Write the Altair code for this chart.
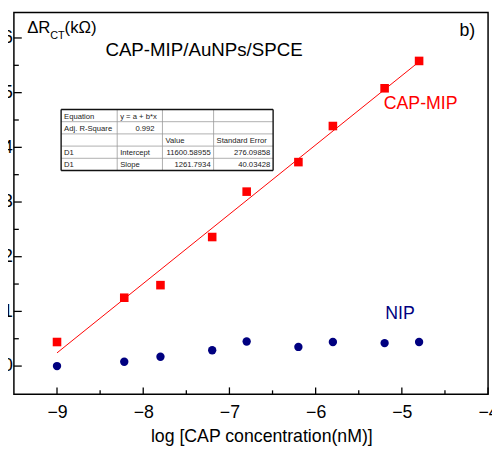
import altair as alt
import pandas as pd

# ---- data ----
x_vals = [-9.0, -8.22, -7.8, -7.2, -6.8, -6.2, -5.8, -5.2, -4.8]
mip_vals = [0.44, 1.25, 1.48, 2.36, 3.19, 3.73, 4.39, 5.08, 5.58]
nip_vals = [0.00, 0.08, 0.17, 0.29, 0.45, 0.35, 0.44, 0.42, 0.44]

x_major = [-9, -8, -7, -6, -5, -4]
x_minor = [-8.5, -7.5, -6.5, -5.5, -4.5]
y_major = [0, 1, 2, 3, 4, 5, 6]
y_minor = [0.5, 1.5, 2.5, 3.5, 4.5, 5.5]

table_rows = [
    ["Equation", "y = a + b*x", "", ""],
    ["Adj. R-Square", "0.992", "", ""],
    ["", "", "Value", "Standard Error"],
    ["D1", "Intercept", "11600.58955", "276.09858"],
    ["D1", "Slope", "1261.7934", "40.03428"],
]
table_align = [
    ["left", "left", "left", "left"],
    ["left", "right", "left", "left"],
    ["left", "left", "left", "left"],
    ["left", "left", "right", "right"],
    ["left", "left", "right", "right"],
]

FONT = "Liberation Sans"
W, H = 482, 388
X_DOM = [-9.5, -4.0]
Y_DOM = [-0.516, 6.464]

mip_df = pd.DataFrame({"x": x_vals, "y": mip_vals})
nip_df = pd.DataFrame({"x": x_vals, "y": nip_vals})

xs = alt.Scale(domain=X_DOM, nice=False, zero=False)
ys = alt.Scale(domain=Y_DOM, nice=False, zero=False)

x_enc = alt.X("x:Q", scale=xs, axis=alt.Axis(values=x_major, format="d", title=None, labelPadding=10,
                                             labelOverlap=False, labelFlush=False))
y_enc = alt.Y("y:Q", scale=ys, axis=alt.Axis(values=y_major, format="d", title=None, labelPadding=1.5,
                                             labelOverlap=False, labelFlush=False))

mip_pts = alt.Chart(mip_df).mark_point(shape="square", filled=True, size=76, color="#ff0000", opacity=1).encode(x=x_enc, y=y_enc)
fit = alt.Chart(mip_df).transform_regression("x", "y", extent=[-9.0, -4.8]).mark_line(
    color="#ff0000", strokeWidth=1).encode(x="x:Q", y="y:Q")
nip_pts = alt.Chart(nip_df).mark_point(shape="circle", filled=True, size=72, color="#000080", opacity=1).encode(x="x:Q", y="y:Q")

# inward ticks
xt_major = alt.Chart(pd.DataFrame({"x": x_major})).mark_rule(color="black", strokeWidth=1.3).encode(
    x="x:Q", y=alt.value(H), y2=alt.value(H - 7))
xt_minor = alt.Chart(pd.DataFrame({"x": x_minor})).mark_rule(color="black", strokeWidth=1.3).encode(
    x="x:Q", y=alt.value(H), y2=alt.value(H - 4))
yt_major = alt.Chart(pd.DataFrame({"y": y_major})).mark_rule(color="black", strokeWidth=1.3).encode(
    y="y:Q", x=alt.value(0), x2=alt.value(8))
yt_minor = alt.Chart(pd.DataFrame({"y": y_minor})).mark_rule(color="black", strokeWidth=1.3).encode(
    y="y:Q", x=alt.value(0), x2=alt.value(5))

# ---- inset table (pixel layout relative to plot origin) ----
OX, OY = 14, 9
col_edges = [62, 119, 165, 217, 277.5]
row_top, row_h = 107.5, 12.4
n_rows = len(table_rows)
row_edges = [row_top + i * row_h for i in range(n_rows + 1)]

cells = []
for r, row in enumerate(table_rows):
    for c, txt in enumerate(row):
        if not txt:
            continue
        al = table_align[r][c]
        pad = 8 if (r == 1 and c == 1) else 3
        px = col_edges[c] + 3 if al == "left" else col_edges[c + 1] - pad
        cells.append({"t": txt, "px": px - OX, "py": row_edges[r + 1] - 3.2 - OY, "al": al})
cells_df = pd.DataFrame(cells)

def table_text(al):
    d = cells_df[cells_df["al"] == al]
    return alt.Chart(d).mark_text(font=FONT, fontSize=7.8, color="#222222", align=al, baseline="alphabetic").encode(
        x=alt.X("px:Q", scale=None), y=alt.Y("py:Q", scale=None), text="t:N")

lines = []
for i, yy in enumerate(row_edges):
    outer = i in (0, n_rows)
    lines.append({"x1": col_edges[0] - OX, "x2": col_edges[-1] - OX, "y1": yy - OY, "y2": yy - OY, "o": outer})
for j, xx in enumerate(col_edges):
    outer = j in (0, len(col_edges) - 1)
    lines.append({"x1": xx - OX, "x2": xx - OX, "y1": row_edges[0] - OY, "y2": row_edges[-1] - OY, "o": outer})
lines_df = pd.DataFrame(lines)

inner_lines = alt.Chart(lines_df[~lines_df["o"]]).mark_rule(color="#9a9a9a", strokeWidth=0.8).encode(
    x=alt.X("x1:Q", scale=None), x2="x2:Q", y=alt.Y("y1:Q", scale=None), y2="y2:Q")
outer_lines = alt.Chart(lines_df[lines_df["o"]]).mark_rule(color="#111111", strokeWidth=1.4).encode(
    x=alt.X("x1:Q", scale=None), x2="x2:Q", y=alt.Y("y1:Q", scale=None), y2="y2:Q")

# ---- annotations ----
def label(txt, px, py, size=18, color="black", align="left"):
    return alt.Chart(pd.DataFrame({"t": [txt]})).mark_text(
        font=FONT, fontSize=size, color=color, align=align, baseline="alphabetic").encode(
        x=alt.value(px - OX), y=alt.value(py - OY), text="t:N")

annots = [
    label("\u0394R", 27.5, 30, 17),
    label("CT", 51, 36, 11),
    label("(k\u03a9)", 65.5, 30, 17),
    label("CAP-MIP/AuNPs/SPCE", 107, 53, 19),
    label("b)", 467, 33, 18),
    label("CAP-MIP", 390, 107, 18, "#ff0000"),
    label("NIP", 391.5, 320, 18, "#000080"),
    label("log [CAP concentration(nM)]", 266, 445, 18, "black", "center"),
]

chart = alt.layer(
    inner_lines, outer_lines, table_text("left"), table_text("right"),
    xt_major, xt_minor, yt_major, yt_minor,
    fit, mip_pts, nip_pts, *annots,
).properties(
    width=W, height=H,
    autosize=alt.AutoSizeParams(type="none"),
    padding={"left": 6, "top": 1, "right": 4, "bottom": 56},
    background="white",
).configure_view(
    stroke="black", strokeWidth=1.5
).configure_axis(
    domain=False, ticks=False, grid=False,
    labelFont=FONT, labelFontSize=18, labelColor="black",
)

chart.save("out.html", embed_options={"renderer": "svg", "actions": False})
